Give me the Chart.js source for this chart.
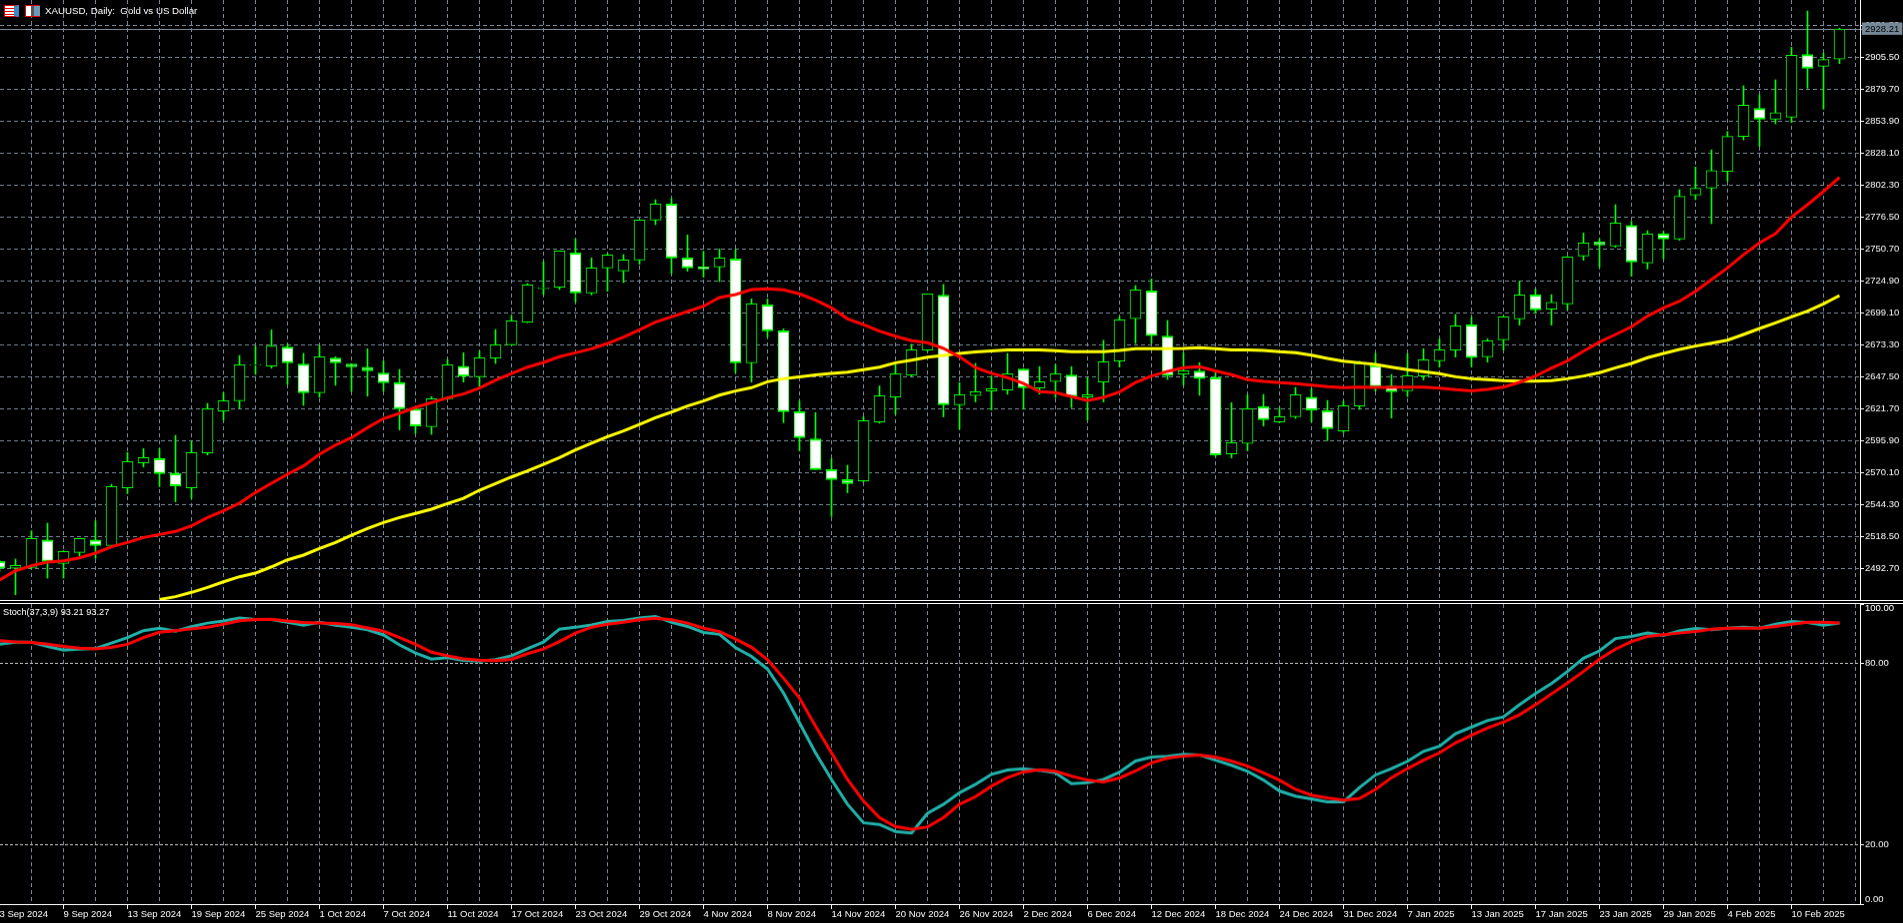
<!DOCTYPE html>
<html>
<head>
<meta charset="utf-8">
<title>XAUUSD Daily</title>
<script src="https://cdn.jsdelivr.net/npm/chart.js@4/dist/chart.umd.min.js"></script>
<style>
  html, body { margin: 0; background: #000; overflow: hidden; }
  #stage { position: relative; width: 1903px; height: 923px; background: #000; }
  canvas { position: absolute; left: 0; display: block; }
  #priceChart { top: 0; border-bottom: 1px solid #fff; }
  #stochChart { top: 603px; border-top: 1px solid #fff; }
  .caption { position: absolute; color: #fff; font: 9.5px "Liberation Sans", sans-serif; white-space: pre; }
  .icon { position: absolute; top: 5px; height: 12px; box-sizing: border-box; }
  #iconList { left: 4px; width: 15px; border: 1px solid #e00000; background: repeating-linear-gradient(180deg, #fff 0 2px, #e00000 2px 3px); border-right: 5px solid #3f86c8; }
  #iconDisk { left: 25px; width: 15px; border: 1px solid #e00000; border-right: 0; background: linear-gradient(90deg, #fff 0 35%, #555 35% 60%, #6f97b8 60%); }
</style>
</head>
<body>
<div id="stage">
  <canvas id="priceChart" width="1903" height="601"></canvas>
  <canvas id="stochChart" width="1903" height="319"></canvas>
  <div id="iconList" class="icon"></div>
  <div id="iconDisk" class="icon"></div>
  <div class="caption" style="left:45px;top:5px;font-size:9.7px">XAUUSD, Daily:  Gold vs US Dollar</div>
  <div class="caption" style="left:3px;top:607px;font-size:9.2px">Stoch(37,3,9) 93.21 93.27</div>
</div>
<script>
const opens = [2498.3,2492.7,2493.4,2515.7,2496.6,2505.5,2515.7,2511.2,2557.7,2577.8,2581.3,2569.2,2557.7,2585.9,2619.8,2628.1,2656.9,2656,2671.4,2657.7,2634.5,2662.5,2657.7,2655.2,2650.4,2642.6,2621.4,2607.1,2629.7,2656,2647.4,2662.5,2673.2,2691.5,2718.5,2719.7,2747.4,2715.2,2735.3,2732.9,2741.8,2774,2786.9,2743.4,2736.1,2736.1,2742.6,2658.7,2705.5,2684.5,2619.2,2597.2,2572.5,2564.4,2563.4,2610.9,2631.1,2648.8,2669,2713.4,2624.9,2632.2,2635.9,2636.7,2653.7,2638.4,2643.5,2648.8,2631.1,2643.2,2660.1,2694.3,2716.8,2680.3,2649.6,2652.1,2646.7,2585.1,2593.5,2623.2,2610.9,2615.2,2631,2620,2603.6,2623.8,2656.6,2639.9,2636.1,2648,2660.3,2668.9,2689.4,2663.6,2677.3,2694.2,2713.5,2702,2706.3,2745,2756.3,2753.1,2769.7,2739.3,2762.7,2758.7,2794.2,2799.8,2813.3,2841.5,2864.1,2855.5,2857.1,2907.6,2898.2,2903.9];
const highs = [2499,2500.2,2523,2529.2,2506.9,2516.8,2531,2560.6,2586.2,2589.4,2589.4,2600.1,2595.3,2625.9,2634.5,2664.6,2672.2,2685.3,2674,2666.3,2672.7,2663.6,2658,2670,2660.3,2653.4,2621.6,2631.3,2661.4,2666.8,2668.1,2685.6,2696.9,2722.7,2740.4,2749,2758.7,2743.4,2746.9,2746.1,2774.2,2790.4,2791.5,2762,2748.8,2750.7,2750.1,2710.3,2710.3,2686.1,2627.8,2618.4,2581.4,2576,2615.2,2640,2657.4,2673.6,2714.4,2722,2642.7,2658.2,2648,2666.3,2654,2655.6,2657.2,2655.6,2646.7,2676.8,2696,2721.1,2726.5,2692.9,2666.8,2658.8,2650.7,2626.5,2633,2633.2,2622.4,2638.8,2637.8,2628.3,2627.8,2660,2666.3,2649.3,2666,2670,2678,2697.7,2695.6,2678,2696.4,2724.6,2718.4,2713.8,2744.7,2763.5,2758.7,2786.4,2773,2765.4,2764.9,2798.5,2816.8,2830.7,2845.5,2882.4,2875.1,2887.2,2913.5,2942.8,2908.7,2928.9];
const lows = [2490,2471.4,2492.6,2484.8,2484.8,2502.8,2500.7,2510,2553,2574.6,2558.7,2546.4,2549.1,2584.3,2612.2,2621.9,2649.3,2654.4,2641.3,2624.3,2630.8,2640.5,2635.6,2631.8,2635.9,2604.4,2601.7,2600.9,2629,2643.1,2639.4,2658.2,2673,2691,2713.6,2717.9,2707.6,2713.6,2716.5,2723.5,2738.3,2770.3,2730.8,2732.6,2727.8,2724.3,2650.7,2643.1,2679.4,2610.3,2587.5,2572.4,2534.6,2553.7,2562.6,2609.9,2617.1,2648,2668,2615,2605,2627.1,2620.6,2633.3,2621.2,2633.3,2630.6,2622.5,2612.3,2627.1,2655.3,2674.4,2674.4,2645.3,2640.8,2632.5,2583,2581.9,2587.6,2607.7,2610.3,2613.8,2610.9,2595.8,2602.3,2621.1,2635.9,2614.1,2631.3,2644.8,2655.2,2663.3,2655.5,2659.3,2668.9,2689.1,2699,2689.1,2701.7,2741.5,2735.8,2752,2728.6,2734.5,2742.6,2757.6,2790.4,2771.1,2805.2,2838.8,2833.4,2851.7,2852.8,2880.5,2863.5,2900.4];
const closes = [2492.7,2495.1,2516.8,2498.3,2506.3,2516.8,2511.2,2558.7,2578.9,2582.1,2569.2,2559.3,2586.1,2621.6,2628.1,2657.1,2657.4,2672.2,2658.7,2634.5,2663.6,2658.7,2655.5,2652.3,2642.6,2621.6,2607.7,2629.7,2657.1,2648,2662.8,2673.2,2692.6,2721.6,2719.3,2749,2715.2,2735.3,2745.8,2741.8,2774,2786.9,2743.4,2735.3,2734.5,2743.4,2658.7,2706.3,2684.5,2619.2,2598.2,2572.4,2564.4,2561.2,2612,2632.2,2649.9,2669.3,2714.4,2624.9,2633,2635.4,2637.8,2649.9,2638.6,2643.5,2649.9,2631.4,2633,2659.6,2693.5,2717.7,2680.6,2648.3,2652.3,2645.9,2584.3,2594.3,2621.7,2612.8,2615.2,2632.9,2620.6,2605.5,2624,2658.2,2639.4,2635.3,2648.2,2661.1,2669.2,2688.6,2662.8,2676.5,2695.8,2713.5,2701.4,2707.6,2744.2,2755.5,2753.9,2771.6,2740.2,2762.7,2758.7,2793.1,2799.6,2814,2841.5,2866.8,2855.5,2860.8,2907.1,2896.6,2903.6,2928.21];
const maFast = [2483.2,2490.7,2494.8,2497.7,2498.8,2501.2,2505,2510.1,2513.6,2517.6,2520,2522.5,2527,2533.7,2539.1,2545.3,2553.9,2561.4,2568.7,2575.4,2584.8,2592.3,2598.2,2606.3,2613.6,2617.9,2622.7,2626.5,2630.5,2633.5,2638.3,2644.5,2650.1,2655.2,2659,2663.6,2666.8,2670,2674.3,2679.4,2685.3,2691.5,2695.8,2700.1,2704.4,2711.4,2713.8,2717.9,2718.4,2717.6,2714.4,2709.3,2703.1,2694.2,2689.6,2684.3,2680.2,2676.5,2674.9,2670.3,2663.6,2654.8,2650.2,2646.7,2641.9,2635.4,2634.6,2631.4,2628.1,2630.8,2635.1,2642.7,2648,2651.8,2654.8,2655.6,2652.1,2649.1,2645.1,2643.7,2642.6,2641.8,2640.7,2639.4,2638.6,2639.1,2638.8,2638.8,2639.1,2639.1,2638.3,2637,2636.1,2637.2,2639.1,2642.9,2648,2654.4,2660.3,2668.1,2675.4,2681.6,2687.8,2696.4,2703.1,2708.4,2716.5,2725.9,2735.3,2746,2755.5,2763,2776.4,2786.4,2797.1,2808.4];
const maSlow = [null,null,null,null,null,null,null,null,null,null,2467.6,2469.8,2473.3,2477.3,2481.8,2485.9,2488.8,2493.9,2499.6,2503.4,2508.7,2513.6,2519.5,2524.9,2529.7,2533.7,2537,2540.5,2545,2549.3,2555.8,2561.2,2566.5,2571.4,2576.7,2582.1,2588.3,2593.7,2599.1,2603.6,2609,2614.4,2618.9,2623.8,2627.8,2632.6,2635.9,2638.6,2643.4,2645.8,2647.4,2649,2650.1,2651.2,2653.1,2655.2,2658.7,2660.9,2663.3,2664.6,2666.3,2667.4,2668.2,2669,2669,2669,2668.5,2667.7,2667.7,2667.7,2668.7,2670.1,2670.1,2670.1,2670.3,2670.9,2670.1,2669,2669,2668.7,2667.6,2666.8,2664.9,2662.2,2660.1,2658.7,2657.4,2655.2,2653.1,2651.5,2649.9,2647.4,2645.8,2645,2644.2,2643.9,2643.9,2644.2,2645.8,2648,2650.7,2654.7,2658.2,2662.8,2666.3,2669.5,2672.2,2674.6,2677,2681.6,2686.4,2691,2695.8,2700.4,2706.3,2713];
const stochMain = [86.2,86.9,86.9,85.5,84.3,84.6,84.8,86.6,88.4,90.7,91.5,90.5,92,93.2,93.9,94.9,94.4,94.4,93.5,92.5,93.5,92.5,91.8,91,89.3,86,83.3,81.3,81.8,80.9,80.6,81.1,82.4,84.7,86.9,91.2,91.8,92.6,93.7,94.1,94.9,95.4,93.5,92.1,90.1,89.5,85.1,82.2,78,70.1,60.2,50.3,41.5,33.3,27.2,26.6,24.3,23.8,30.3,33.3,37.1,39.9,43.2,44.6,45,44.5,43.7,40.1,40.4,41.5,43.9,47.6,48.9,49.2,49.8,49.6,47.9,46.2,44.2,41.3,37.7,36,35.1,34.1,34.1,38.8,43,45.1,47.5,50.8,52.5,56.6,58.8,61,62.2,66.2,69.9,73.2,77.2,81.6,84,88.1,88.8,89.9,89.1,90.6,91.4,91,91.5,91.8,91.5,92.8,93.7,93.4,92.5,93.21];
const stochSignal = [87.4,87,86.8,86.2,85.5,84.9,84.7,85.2,86.2,88.4,90.2,90.7,91.3,91.8,92.8,94,94.4,94.5,93.9,93.4,93.2,93.1,92.7,91.6,90.5,88.4,86.2,83.6,82.4,81.4,81,80.8,81.2,83.1,84.6,87.1,89.9,91.8,92.8,93.5,94.3,94.8,94.3,93.2,91.5,90.4,87.9,85.2,81.1,75,68.4,59.1,50.3,41.5,34.4,28.9,25.9,25,25.8,28.9,33.3,35.8,39.3,42.1,44,44.7,44.2,42.6,41.3,40.7,42,44.3,47,48.6,49.2,49.6,48.9,47.6,45.9,43.7,41.3,38.2,36.3,35.4,34.7,35.2,38.2,42.1,45.1,47.9,50.3,53.6,56.1,58.5,60.5,62.9,66.2,69.8,73.4,77.2,81.3,84.6,87.1,88.8,89.4,89.9,90.4,91.2,91.5,91.5,91.5,92.1,92.8,93.5,93.5,93.27];

// one label every 4 bars, the rest of the grid lines are unlabelled
const dateLabels = ['3 Sep 2024','9 Sep 2024','13 Sep 2024','19 Sep 2024','25 Sep 2024','1 Oct 2024','7 Oct 2024','11 Oct 2024','17 Oct 2024','23 Oct 2024','29 Oct 2024','4 Nov 2024','8 Nov 2024','14 Nov 2024','20 Nov 2024','26 Nov 2024','2 Dec 2024','6 Dec 2024','12 Dec 2024','18 Dec 2024','24 Dec 2024','31 Dec 2024','7 Jan 2025','13 Jan 2025','17 Jan 2025','23 Jan 2025','29 Jan 2025','4 Feb 2025','10 Feb 2025'];
const lastPrice = 2928.21;
const priceTicks = [2931.3,2905.5,2879.7,2853.9,2828.1,2802.3,2776.5,2750.7,2724.9,2699.1,2673.3,2647.5,2621.7,2595.9,2570.1,2544.3,2518.5,2492.7,lastPrice];
const xTicks = Array.from({ length: 59 }, (_, i) => i * 2);

// stoch labels sit inside the panel at 100 and 0, so they get their own tick values
const stochLabels = { 98.2: '100.00', 80: '80.00', 20: '20.00', 1.7: '0.00' };
const stochTicks = [99.5, 98.2, 80, 20, 1.7, 0.3];

const FONT = { family: '"Liberation Sans", sans-serif', size: 9.5 };
const SLATE = '#778899';
const LIME = '#00ff00';

const points = arr => arr.map((v, i) => ({ x: i, y: v }));
const lineSet = (arr, color, order) => ({
  type: 'line', data: points(arr), borderColor: color, borderWidth: 3,
  pointRadius: 0, tension: 0, order: order, spanGaps: false
});

function xScale(showLabels) {
  return {
    type: 'linear', min: 0.03125, max: 116.28125, offset: false,
    afterBuildTicks: s => { s.ticks = xTicks.map(v => ({ value: v })); },
    afterFit: s => {
      s.height = showLabels ? 18 : 0;
      s.paddingLeft = s.paddingRight = s.paddingTop = s.paddingBottom = 0;
    },
    border: { display: showLabels, color: '#fff', dash: [4, 3] },
    grid: {
      offset: false, color: SLATE, drawTicks: showLabels, tickLength: 5,
      tickColor: c => (c.tick && dateLabels[c.tick.value / 4]) ? '#fff' : 'transparent',
      tickBorderDash: []
    },
    ticks: {
      display: showLabels, autoSkip: false, maxRotation: 0, align: 'start', padding: 0,
      color: '#fff', font: FONT,
      callback: v => dateLabels[v / 4] || ''
    }
  };
}

function yAfterFit(s) {
  s.width = 43;
  s.paddingLeft = s.paddingRight = s.paddingTop = s.paddingBottom = 0;
}

const baseOptions = {
  responsive: false, animation: false, devicePixelRatio: 1,
  layout: { padding: 0 },
  plugins: { legend: { display: false }, tooltip: { enabled: false } },
  events: []
};

const isUp = closes.map((c, i) => c >= opens[i]);

new Chart(document.getElementById('priceChart'), {
  data: {
    datasets: [
      {
        type: 'bar', label: 'wick', order: 4, barThickness: 1, grouped: false,
        data: highs.map((h, i) => ({ x: i, y: [lows[i], h] })),
        backgroundColor: LIME, borderWidth: 0
      },
      {
        type: 'bar', label: 'body', order: 3, barThickness: 11, grouped: false,
        data: opens.map((o, i) => ({ x: i, y: [o, closes[i]] })),
        backgroundColor: isUp.map(u => u ? '#000' : '#fff'),
        borderColor: LIME,
        borderWidth: isUp.map(u => u ? 1 : { left: 1, right: 1, top: 2, bottom: 2 }),
        borderSkipped: false
      },
      lineSet(maSlow, '#ffff00', 2),
      lineSet(maFast, '#ff0000', 1)
    ]
  },
  options: {
    ...baseOptions,
    scales: {
      x: xScale(false),
      y: {
        position: 'right', min: 2467.1, max: 2951.7,
        afterBuildTicks: s => { s.ticks = priceTicks.map(v => ({ value: v })); },
        afterFit: yAfterFit,
        border: {
          color: '#fff',
          dash: c => (c.tick && c.tick.value === lastPrice) ? [] : [4, 3]
        },
        grid: {
          color: SLATE, tickLength: 4, tickBorderDash: [],
          tickColor: c => (c.tick && c.tick.value === lastPrice) ? SLATE : '#fff'
        },
        ticks: {
          autoSkip: false, padding: 1, font: FONT,
          color: c => c.tick.value === lastPrice ? '#000' : '#fff',
          showLabelBackdrop: c => c.tick.value === lastPrice,
          backdropColor: SLATE, backdropPadding: { left: 3, right: 3, top: 1, bottom: 0 },
          callback: v => v.toFixed(2)
        }
      }
    }
  }
});

new Chart(document.getElementById('stochChart'), {
  data: {
    datasets: [
      lineSet(stochMain, '#20b2aa', 2),
      lineSet(stochSignal, '#ff0000', 1)
    ]
  },
  options: {
    ...baseOptions,
    scales: {
      x: xScale(true),
      y: {
        position: 'right', min: 0.3, max: 99.5,
        afterBuildTicks: s => { s.ticks = stochTicks.map(v => ({ value: v })); },
        afterFit: yAfterFit,
        border: { color: '#fff', dash: [3, 2] },
        grid: {
          tickLength: 4, tickBorderDash: [],
          color: c => (c.tick && (c.tick.value === 80 || c.tick.value === 20)) ? '#c8c8c8' : 'transparent',
          tickColor: c => (c.tick && (c.tick.value === 98.2 || c.tick.value === 1.7)) ? 'transparent' : '#fff'
        },
        ticks: {
          autoSkip: false, padding: 1, color: '#fff', font: FONT,
          callback: v => stochLabels[v] || ''
        }
      }
    }
  }
});
</script>
</body>
</html>
